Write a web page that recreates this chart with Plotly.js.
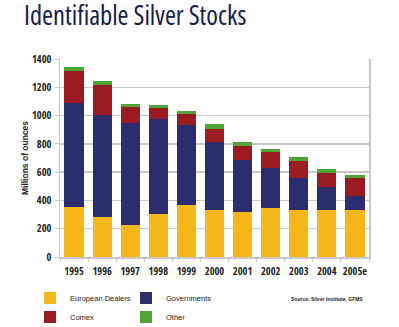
<!DOCTYPE html>
<html>
<head>
<meta charset="utf-8">
<script src="https://cdn.plot.ly/plotly-3.0.1.min.js"></script>
<style>
html,body{margin:0;padding:0;background:#fff;}
#chart{width:399px;height:327px;}
#chart .gtitle{font-stretch:75%;}
</style>
</head>
<body>
<div id="chart"></div>
<script>
const years = ['1995','1996','1997','1998','1999','2000','2001','2002','2003','2004','2005e'];
const europeanDealers = [355, 285, 228, 306, 369, 332, 318, 348, 332, 332, 332];
const governments = [734, 717, 720, 668, 563, 482, 369, 283, 228, 162, 101];
const comex = [224, 215, 113, 80, 80, 90, 99, 113, 118, 99, 127];
const other = [31, 28, 21, 21, 21, 37, 28, 21, 30, 31, 19];
const yTicks = [0, 200, 400, 600, 800, 1000, 1200, 1400];

const condensedBold = 'Open Sans Condensed, Roboto Condensed, sans-serif';
const legendFont = {family: 'Liberation Sans, Arial, sans-serif', size: 7.5, color: '#222'};

const traces = [
  {name: 'European Dealers', y: europeanDealers, color: '#F6B71B', legend: 'legend'},
  {name: 'Governments', y: governments, color: '#2B2D6E', legend: 'legend2'},
  {name: 'Comex', y: comex, color: '#9B1B21', legend: 'legend'},
  {name: 'Other', y: other, color: '#4FA537', legend: 'legend2'}
].map(s => ({
  type: 'bar', x: years, y: s.y, name: s.name, legend: s.legend,
  marker: {color: s.color, line: {width: 0}},
  hoverinfo: 'x+y+name'
}));

const layout = {
  width: 399, height: 327,
  margin: {l: 60, r: 30, t: 59, b: 70, autoexpand: false},
  paper_bgcolor: '#fff', plot_bgcolor: '#fff',
  barmode: 'stack', bargap: 0.32,
  title: {
    text: 'Identifiable Silver Stocks',
    font: {family: 'Open Sans, sans-serif', size: 26.5, color: '#15204C'},
    x: 24/399, xanchor: 'left', xref: 'container',
    y: 1 - 6/327, yanchor: 'top', yref: 'container'
  },
  xaxis: {
    type: 'category', tickvals: years, ticktext: years, tickangle: 0,
    showline: true, linecolor: '#c8c8c8', linewidth: 1.5,
    ticks: 'outside', tickson: 'boundaries', ticklen: 3, tickcolor: '#c8c8c8', tickwidth: 1,
    ticklabelstandoff: 4,
    tickfont: {family: condensedBold, size: 10.5, color: '#222', weight: 'bold'},
    showgrid: false, fixedrange: true
  },
  yaxis: {
    range: [0, 1400], tickvals: yTicks,
    showline: true, mirror: true, linecolor: '#c8c8c8', linewidth: 1.5,
    ticks: 'outside', ticklen: 4, tickcolor: '#c8c8c8', tickwidth: 1,
    ticklabelstandoff: 1,
    showgrid: true, gridcolor: '#c8c8c8', gridwidth: 1.5,
    zeroline: false,
    tickfont: {family: condensedBold, size: 10.5, color: '#222', weight: 'bold'},
    title: {text: 'Millions of ounces', font: {family: 'Liberation Sans, Arial, sans-serif', size: 8.5, color: '#222', weight: 'bold'}, standoff: 2},
    fixedrange: true
  },
  legend: {
    orientation: 'v', traceorder: 'normal', x: -0.097, xanchor: 'left', y: -0.134, yanchor: 'top',
    font: legendFont, bgcolor: 'rgba(0,0,0,0)', itemwidth: 30
  },
  legend2: {
    orientation: 'v', traceorder: 'normal', x: 0.2136, xanchor: 'left', y: -0.134, yanchor: 'top',
    font: legendFont, bgcolor: 'rgba(0,0,0,0)', itemwidth: 30
  },
  annotations: [{
    text: 'Source: Silver Institute, GFMS', showarrow: false,
    xref: 'paper', yref: 'paper', x: 0.987, xanchor: 'right', y: -0.212, yanchor: 'middle',
    font: {family: 'Liberation Sans, Arial, sans-serif', size: 5, color: '#222', weight: 'bold'}
  }],
  showlegend: true
};

Plotly.newPlot('chart', traces, layout, {displayModeBar: false, staticPlot: true});
</script>
</body>
</html>
